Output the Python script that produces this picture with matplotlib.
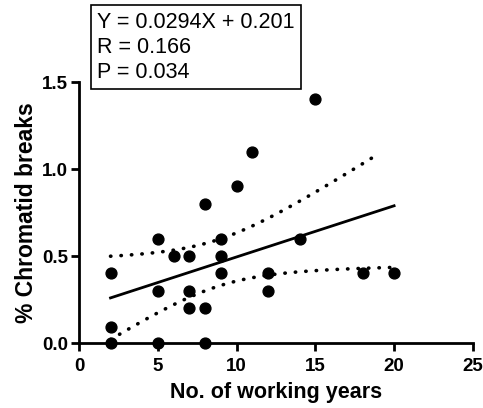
import numpy as np
import matplotlib
matplotlib.use('Agg')
import matplotlib.pyplot as plt

plt.rcParams['font.family'] = ['Liberation Sans', 'DejaVu Sans']

# working years vs % chromatid breaks
years = [2, 2, 2, 5, 5, 5, 6, 7, 7, 7, 8, 8, 8, 9, 9, 9, 10, 11, 12, 12, 14, 15, 18, 20]
breaks = [0.4, 0.09, 0.0, 0.6, 0.3, 0.0, 0.5, 0.5, 0.3, 0.2, 0.8, 0.2, 0.0,
          0.6, 0.5, 0.4, 0.9, 1.1, 0.4, 0.3, 0.6, 1.4, 0.4, 0.4]
# regression reported on the chart
slope = 0.0294
icpt = 0.201
stats_text = "Y = 0.0294X + 0.201\nR = 0.166\nP = 0.034"

x = np.array(years, dtype=float)
y = np.array(breaks)
n = len(x)
xs = np.linspace(x.min(), x.max(), 100)
fit = slope * xs + icpt
resid = y - (slope * x + icpt)
s = np.sqrt(np.sum(resid ** 2) / (n - 2))
sxx = np.sum((x - x.mean()) ** 2)
t = 2.074  # t(0.975, 22)
half = t * s * np.sqrt(1.0 / n + (xs - x.mean()) ** 2 / sxx)

fig = plt.figure(figsize=(4.83, 4.08), dpi=100)
ax = fig.add_axes([0.1636, 0.159, 0.979 - 0.1636, 0.64])

ax.plot(xs, fit, color='black', lw=2)
dots = dict(color='black', lw=2.6, linestyle=(0, (0.1, 2.8)), dash_capstyle='round')
ax.plot(xs[:95], (fit + half)[:95], **dots)
ax.plot(xs, fit - half, **dots)
ax.plot(x, y, 'o', color='black', markersize=7.8, clip_on=False, zorder=5)

ax.set_xlim(0, 25)
ax.set_ylim(0, 1.5)
ax.set_xticks([0, 5, 10, 15, 20, 25])
ax.set_yticks([0.0, 0.5, 1.0, 1.5])
ax.set_yticklabels(['0.0', '0.5', '1.0', '1.5'])

for side in ['top', 'right']:
    ax.spines[side].set_visible(False)
for side in ['left', 'bottom']:
    ax.spines[side].set_linewidth(2)
ax.tick_params(width=2, length=6, labelsize=13.5)
ax.tick_params(axis='x', pad=4.5)
ax.tick_params(axis='y', pad=2)
for lab in ax.get_xticklabels() + ax.get_yticklabels():
    lab.set_fontweight('bold')

ax.set_xlabel("No. of working years", fontsize=15.5, fontweight='bold', labelpad=5)
ax.set_ylabel("% Chromatid breaks", fontsize=16.5, fontweight='bold', labelpad=3)

fig.text(0.201, 0.971, stats_text, fontsize=15.5, va='top', ha='left', linespacing=1.24,
         bbox=dict(boxstyle='square,pad=0.3', facecolor='white', edgecolor='black', lw=1.2))

fig.savefig('out.png', dpi=100)
